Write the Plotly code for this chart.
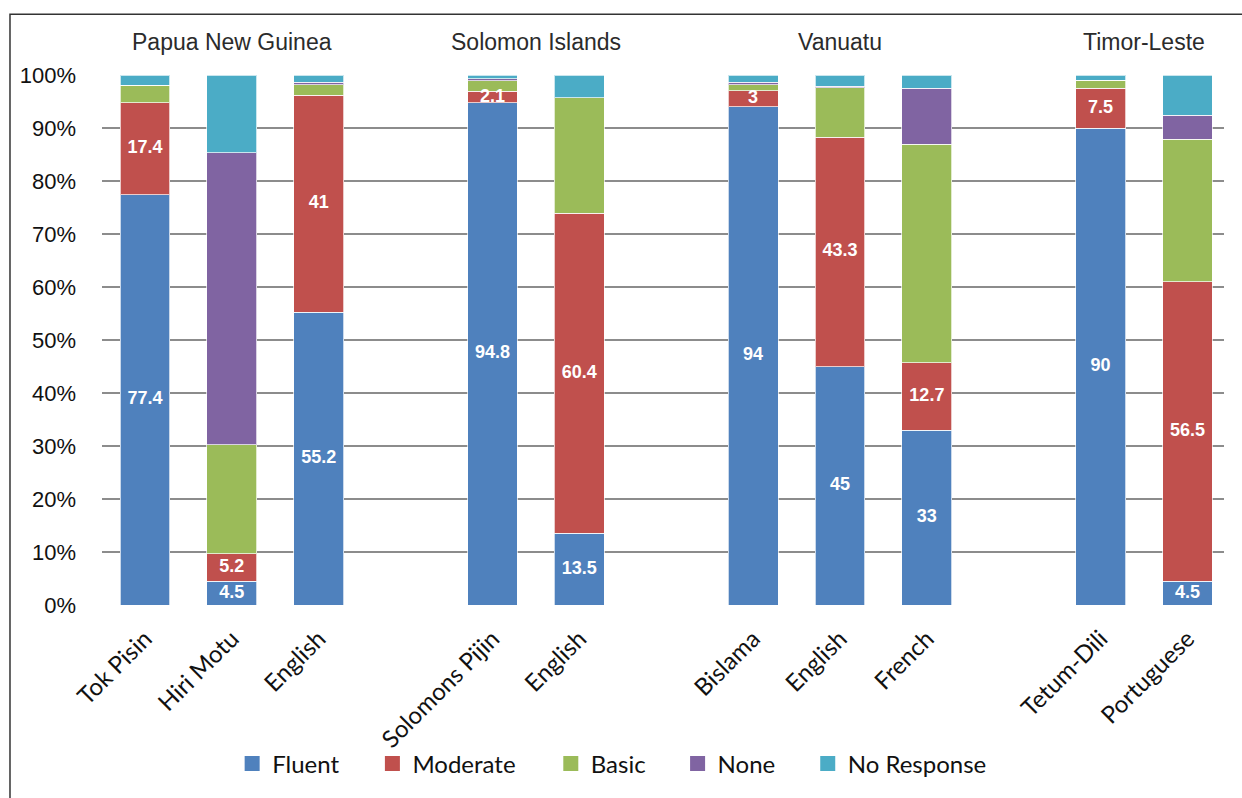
import plotly.graph_objects as go

# Language proficiency by country (percent of respondents)
countries = ["Papua New Guinea", "Solomon Islands", "Vanuatu", "Timor-Leste"]
languages = [
    ["Tok Pisin", "Hiri Motu", "English"],
    ["Solomons Pijin", "English"],
    ["Bislama", "English", "French"],
    ["Tetum-Dili", "Portuguese"],
]
fluent = [77.4, 4.5, 55.2, 94.8, 13.5, 94.0, 45.0, 33.0, 90.0, 4.5]
moderate = [17.4, 5.2, 41.0, 2.1, 60.4, 3.0, 43.3, 12.7, 7.5, 56.5]
basic = [3.3, 20.5, 2.0, 2.0, 21.8, 1.2, 9.3, 41.2, 1.5, 26.9]
none = [0.0, 55.1, 0.4, 0.4, 0.0, 0.4, 0.3, 10.6, 0.0, 4.5]
no_response = [1.9, 14.7, 1.4, 0.7, 4.3, 1.4, 2.1, 2.5, 1.0, 7.6]

series = [
    ("Fluent", fluent, "#4F81BD"),
    ("Moderate", moderate, "#C0504D"),
    ("Basic", basic, "#9BBB59"),
    ("None", none, "#8064A2"),
    ("No Response", no_response, "#4BACC6"),
]

# left edge (paper units) of each legend entry, laid out in one row
legend_x = [0.116, 0.241, 0.400, 0.513, 0.629]

# slot positions: languages in a country sit side by side, one empty slot between countries
xpos, ticktext, group_centers = [], [], []
slot = 0
for langs in languages:
    start = slot
    for lang in langs:
        xpos.append(slot)
        ticktext.append(lang)
        slot += 1
    group_centers.append((start + slot - 1) / 2)
    slot += 1

fig = go.Figure()
for name, vals, color in series:
    fig.add_trace(go.Bar(
        x=xpos, y=vals, name=name, showlegend=False,
        marker=dict(color=color, line=dict(color="rgba(255,255,255,0.7)", width=1)),
        hoverinfo="skip",
    ))

# legend keys: square swatches, each in its own legend box
legend_layout = {}
for k, (name, vals, color) in enumerate(series):
    lname = "legend" if k == 0 else f"legend{k + 1}"
    fig.add_trace(go.Scatter(
        x=[None], y=[None], mode="markers", name=name, legend=lname,
        marker=dict(symbol="square", size=15, color=color),
        hoverinfo="skip",
    ))
    legend_layout[lname] = dict(
        orientation="h", x=legend_x[k], xanchor="left", y=-0.30, yanchor="middle",
        font=dict(family="Lato", size=24, color="#111111"),
        itemwidth=30, bgcolor="rgba(0,0,0,0)",
    )

# value labels on the Fluent and Moderate segments
lab_x, lab_y, lab_t = [], [], []
for i, x in enumerate(xpos):
    lab_x += [x, x]
    lab_y += [fluent[i] / 2, fluent[i] + moderate[i] / 2]
    lab_t += [f"{fluent[i]:g}", f"{moderate[i]:g}"]
fig.add_trace(go.Scatter(
    x=lab_x, y=lab_y, text=lab_t, mode="text", showlegend=False,
    textfont=dict(family="Liberation Sans, Arial", size=18, color="white", weight="bold"),
    hoverinfo="skip", cliponaxis=False,
))

for name, cx in zip(countries, group_centers):
    fig.add_annotation(
        x=cx, xref="x", y=1.0, yref="paper", yanchor="middle", yshift=33,
        text=name, showarrow=False,
        font=dict(family="Liberation Sans, Arial", size=23, color="#2b2b2b"),
    )

# outer frame line (top and left)
fig.add_shape(type="rect", xref="paper", yref="paper",
              x0=-0.082, x1=1.2, y0=-1.0, y1=1.1144,
              line=dict(color="#333333", width=1.5), layer="above")

fig.update_layout(
    width=1242, height=798,
    margin=dict(l=102, r=18, t=75, b=190),
    paper_bgcolor="white", plot_bgcolor="white",
    barmode="stack", bargap=0.425,
    showlegend=True,
    xaxis=dict(
        tickmode="array", tickvals=xpos, ticktext=ticktext, tickangle=-45,
        range=[-0.495, 12.42], showgrid=False, zeroline=False, showline=False,
        tickfont=dict(family="Lato", size=24, color="#111111"), ticks="",
        ticklabelstandoff=14,
    ),
    yaxis=dict(
        range=[0, 100], dtick=10, ticksuffix="%", showgrid=True,
        gridcolor="#8c8c8c", gridwidth=1.5, zeroline=False, showline=False,
        tickfont=dict(family="Liberation Sans, Arial", size=22, color="#111111"),
        ticklen=0, ticks="", ticklabelstandoff=25,
    ),
    **legend_layout,
)

fig.write_html("out.html")
